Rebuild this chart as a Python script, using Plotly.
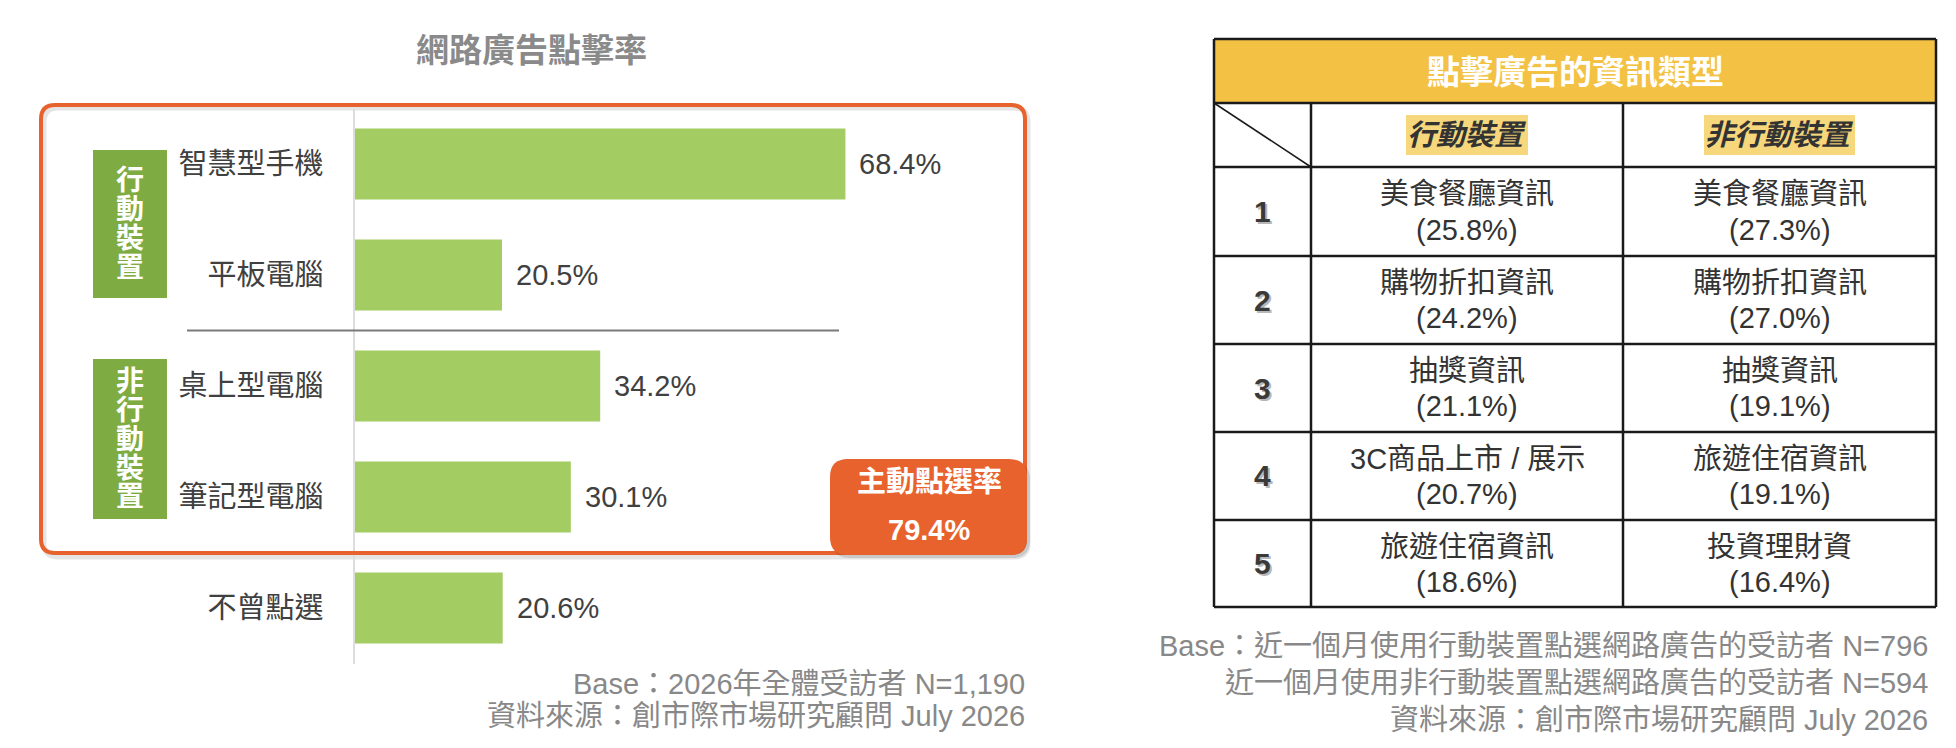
import plotly.graph_objects as go

W, H = 1956, 748

# ---- data ----
categories = ["智慧型手機", "平板電腦", "桌上型電腦", "筆記型電腦", "不曾點選"]
click_rate = [68.4, 20.5, 34.2, 30.1, 20.6]
active_rate = 79.4

ranks = ["1", "2", "3", "4", "5"]
mobile_items = ["美食餐廳資訊", "購物折扣資訊", "抽獎資訊", "3C商品上市 / 展示", "旅遊住宿資訊"]
mobile_pct = [25.8, 24.2, 21.1, 20.7, 18.6]
nonmobile_items = ["美食餐廳資訊", "購物折扣資訊", "抽獎資訊", "旅遊住宿資訊", "投資理財資"]
nonmobile_pct = [27.3, 27.0, 19.1, 19.1, 16.4]
col_titles = ["行動裝置", "非行動裝置"]
group_names = ["行動裝置", "非行動裝置"]

FONT = "Liberation Sans, Noto Sans CJK TC, sans-serif"
ORANGE = "#e8622d"
GREEN = "#a3cc62"
DARKGREEN = "#7fac42"
TXT = "#404040"
NOTE = "#888888"


def px(x):
    return x / W


def py(y):
    return 1 - y / H


def rrect(x0, y0, x1, y1, r):
    # rounded rectangle path in paper coords (pixel inputs)
    pts = [
        f"M{px(x0 + r)},{py(y0)}",
        f"L{px(x1 - r)},{py(y0)}",
        f"Q{px(x1)},{py(y0)} {px(x1)},{py(y0 + r)}",
        f"L{px(x1)},{py(y1 - r)}",
        f"Q{px(x1)},{py(y1)} {px(x1 - r)},{py(y1)}",
        f"L{px(x0 + r)},{py(y1)}",
        f"Q{px(x0)},{py(y1)} {px(x0)},{py(y1 - r)}",
        f"L{px(x0)},{py(y0 + r)}",
        f"Q{px(x0)},{py(y0)} {px(x0 + r)},{py(y0)}",
        "Z",
    ]
    return " ".join(pts)


def note(x, y, text, size, color, bold=False, xanchor="center", **kw):
    if bold:
        text = f"<b>{text}</b>"
    return dict(x=px(x), y=py(y), xref="paper", yref="paper", text=text,
                showarrow=False, xanchor=xanchor, yanchor="middle",
                font=dict(family=FONT, size=size, color=color), **kw)


fig = go.Figure()
fig.add_trace(go.Bar(
    y=categories, x=click_rate, orientation="h",
    marker=dict(color=GREEN, line=dict(width=0)),
    width=0.64, hoverinfo="skip",
))

shapes = []
annotations = []

# value labels
for c, v in zip(categories, click_rate):
    annotations.append(dict(x=v, y=c, xref="x", yref="y", text=f"{v}%",
                            showarrow=False, xanchor="left", xshift=12,
                            font=dict(family=FONT, size=29, color=TXT)))

# orange frame with soft shadow
shapes.append(dict(type="path", xref="paper", yref="paper",
                   path=rrect(36, 100, 1020, 549, 14),
                   line=dict(color="rgba(0,0,0,0.10)", width=5), layer="below"))
shapes.append(dict(type="path", xref="paper", yref="paper",
                   path=rrect(33, 97, 1017, 545, 14),
                   line=dict(color=ORANGE, width=4)))

# separator between groups
shapes.append(dict(type="line", xref="paper", yref="y", x0=px(179), x1=px(831),
                   y0=1.5, y1=1.5, line=dict(color="#7a7a7a", width=2)))

# group boxes with vertical labels
for name, (y0, y1) in zip(group_names, [(142, 290), (351, 511)]):
    shapes.append(dict(type="rect", xref="paper", yref="paper", x0=px(85), x1=px(159),
                       y0=py(y0), y1=py(y1), fillcolor=DARKGREEN, line=dict(width=0)))
    mid = (y0 + y1) / 2
    pitch = 29
    first = mid - pitch * (len(name) - 1) / 2
    for k, ch in enumerate(name):
        annotations.append(note(122, first + k * pitch, ch, 28, "white", bold=True))

# badge
shapes.append(dict(type="path", xref="paper", yref="paper",
                   path=rrect(824, 454, 1022, 550, 18),
                   fillcolor="rgba(0,0,0,0.12)", line=dict(width=0)))
shapes.append(dict(type="path", xref="paper", yref="paper",
                   path=rrect(822, 451, 1019, 547, 18),
                   fillcolor=ORANGE, line=dict(width=0)))
annotations.append(note(921, 474, "主動點選率", 29, "white", bold=True))
annotations.append(note(921, 522, f"{active_rate}%", 29, "white", bold=True))

# left title and notes
annotations.append(note(523, 42, "網路廣告點擊率", 33, "#8a8a8a", bold=True))
annotations.append(note(1019, 676, "Base：2026年全體受訪者 N=1,190", 29, NOTE, xanchor="right"))
annotations.append(note(1019, 708, "資料來源：創市際市場研究顧問 July 2026", 29, NOTE, xanchor="right"))

# ---- table ----
cx = [1206, 1303, 1615, 1928]
ry = [31, 95, 159, 248, 336, 424, 512, 599]
BLK = "#1a1a1a"

shapes.append(dict(type="rect", xref="paper", yref="paper", x0=px(cx[0]), x1=px(cx[-1]),
                   y0=py(ry[0]), y1=py(ry[1]), fillcolor="#f3c244", line=dict(width=0)))
for y in ry:
    shapes.append(dict(type="line", xref="paper", yref="paper", x0=px(cx[0]), x1=px(cx[-1]),
                       y0=py(y), y1=py(y), line=dict(color=BLK, width=2.5)))
for i, x in enumerate(cx):
    top = ry[0] if i in (0, len(cx) - 1) else ry[1]
    shapes.append(dict(type="line", xref="paper", yref="paper", x0=px(x), x1=px(x),
                       y0=py(top), y1=py(ry[-1]), line=dict(color=BLK, width=2.5)))
shapes.append(dict(type="line", xref="paper", yref="paper", x0=px(cx[0]), x1=px(cx[1]),
                   y0=py(ry[1]), y1=py(ry[2]), line=dict(color=BLK, width=1.5)))

annotations.append(note((cx[0] + cx[-1]) / 2, (ry[0] + ry[1]) / 2 + 1,
                        "點擊廣告的資訊類型", 33, "white", bold=True))

for j, t in enumerate(col_titles):
    xc = (cx[j + 1] + cx[j + 2]) / 2
    yc = (ry[1] + ry[2]) / 2
    hw = len(t) * 29 / 2 + 3
    shapes.append(dict(type="rect", xref="paper", yref="paper", x0=px(xc - hw), x1=px(xc + hw),
                       y0=py(yc - 20), y1=py(yc + 20), fillcolor="#f7d77b", line=dict(width=0)))
    annotations.append(note(xc, yc, f"<b><i>{t}</i></b>", 29, "#333333"))

for i in range(len(ranks)):
    yc = (ry[i + 2] + ry[i + 3]) / 2
    x0c = (cx[0] + cx[1]) / 2
    annotations.append(note(x0c + 2, yc + 2, ranks[i], 30, "#b8b8b8", bold=True))
    annotations.append(note(x0c, yc, ranks[i], 30, "#3a3a3a", bold=True))
    for j, (items, pcts) in enumerate([(mobile_items, mobile_pct), (nonmobile_items, nonmobile_pct)]):
        xc = (cx[j + 1] + cx[j + 2]) / 2
        annotations.append(note(xc, yc - 17, items[i], 29, "#333333"))
        annotations.append(note(xc, yc + 18, f"({pcts[i]:.1f}%)", 29, "#333333"))

annotations.append(note(1922, 638, "Base：近一個月使用行動裝置點選網路廣告的受訪者 N=796", 29, NOTE, xanchor="right"))
annotations.append(note(1922, 675, "近一個月使用非行動裝置點選網路廣告的受訪者 N=594", 29, NOTE, xanchor="right"))
annotations.append(note(1922, 712, "資料來源：創市際市場研究顧問 July 2026", 29, NOTE, xanchor="right"))

fig.update_layout(
    width=W, height=H,
    margin=dict(l=0, r=0, t=0, b=0),
    paper_bgcolor="white", plot_bgcolor="white",
    showlegend=False,
    font=dict(family=FONT),
    xaxis=dict(domain=[px(347), px(1064)], range=[0, 100], visible=False,
               showgrid=False, zeroline=False, fixedrange=True),
    yaxis=dict(domain=[py(655.5), py(100.5)], type="category",
               categoryorder="array", categoryarray=categories,
               range=[4.5, -0.5], showgrid=False, zeroline=False,
               showline=True, linecolor="#dddddd", linewidth=1.5,
               ticks="", ticklabelstandoff=24,
               tickfont=dict(family=FONT, size=29, color=TXT),
               fixedrange=True),
    shapes=shapes,
    annotations=annotations,
)

fig.write_html("out.html")
